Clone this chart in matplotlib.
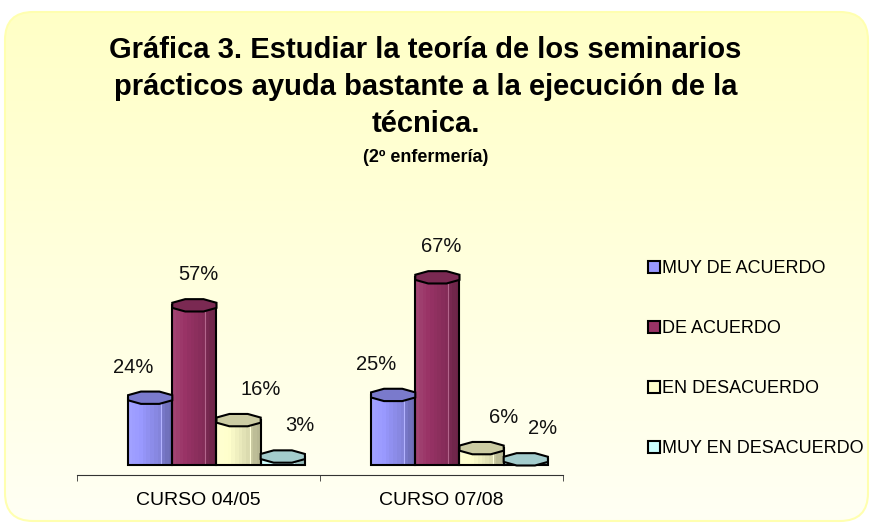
import numpy as np
import matplotlib.pyplot as plt
from matplotlib.patches import FancyBboxPatch, Polygon, Patch
from matplotlib import colors as mcolors

cursos = ['CURSO 04/05', 'CURSO 07/08']
respuestas = ['MUY DE ACUERDO', 'DE ACUERDO', 'EN DESACUERDO', 'MUY EN DESACUERDO']
muy_de_acuerdo = [24, 25]
de_acuerdo = [57, 67]
en_desacuerdo = [16, 6]
muy_en_desacuerdo = [3, 2]
colores = ['#9999FF', '#993366', '#FFFFCC', '#CCFFFF']

series = [muy_de_acuerdo, de_acuerdo, en_desacuerdo, muy_en_desacuerdo]

plt.rcParams['font.family'] = ['Liberation Sans', 'DejaVu Sans']


def tono(c, f):
    r = np.array(mcolors.to_rgb(c))
    if f >= 1:
        return tuple(r + (1 - r) * (f - 1))
    return tuple(r * f)


fig = plt.figure(figsize=(8.74, 5.23), dpi=100)

# fondo con degradado
bg = fig.add_axes([0, 0, 1, 1], zorder=-10)
bg.set_xlim(0, 874)
bg.set_ylim(523, 0)
bg.axis('off')
caja = FancyBboxPatch((5, 12), 863, 509, boxstyle='round,pad=0,rounding_size=28',
                      facecolor='none', edgecolor='#FFFFB0', lw=1.5)
bg.add_patch(caja)
cm = mcolors.LinearSegmentedColormap.from_list('fondo', ['#FFFFC6', '#FFFFF4'])
im = bg.imshow(np.linspace(0, 1, 256).reshape(-1, 1), cmap=cm,
               extent=[5, 868, 521, 12], aspect='auto')
im.set_clip_path(caja)

# ejes
ax = fig.add_axes([77 / 874, 1 - 475 / 523, 486 / 874, 275 / 523])
ax.set_facecolor('none')
ax.set_xlim(-0.5, 1.5)
ax.set_ylim(-3.6, -3.6 + 275 / 2.8)

x = np.arange(len(cursos))
w = 0.182
desp_lbl = [-12, 3, 16, 12]

for i, (vals, col) in enumerate(zip(series, colores)):
    left = x - 0.29 + i * w
    n = 12
    fs = np.concatenate([np.linspace(1.08, 0.86, 9), [0.78, 0.74, 0.72]])
    for k in range(n):
        ax.bar(left + k * w / n, vals, width=w / n, align='edge',
               color=tono(col, fs[k]), lw=0, zorder=2)
    # linea clara
    ax.vlines(left + 0.75 * w, 0, vals, color=tono(col, 1.25), lw=0.8, zorder=2.5)
    ax.bar(left, vals, width=w, align='edge', fill=False, edgecolor='black',
           lw=1.5, zorder=3)
    for xc, v in zip(left + w / 2, vals):
        ang = np.deg2rad(22.5 + 45 * np.arange(8))
        px = xc + (w / 2) * np.cos(ang) / np.cos(np.deg2rad(22.5))
        py = v + 2.2 * np.sin(ang) / np.cos(np.deg2rad(22.5))
        ax.add_patch(Polygon(np.column_stack([px, py]), closed=True,
                             facecolor=tono(col, 0.8), edgecolor='black',
                             lw=1.5, zorder=4))
        ax.annotate(f'{v}%', (xc, v), xytext=(desp_lbl[i], 22),
                    textcoords='offset points', ha='center', va='center',
                    fontsize=14.5, color='#111111')

for s in ['top', 'right', 'left']:
    ax.spines[s].set_visible(False)
ax.spines['bottom'].set_color('#333333')
ax.set_yticks([])
ax.set_xticks(x)
ax.set_xticklabels(cursos, fontsize=14)
ax.tick_params(axis='x', which='major', length=0, pad=12)
ax.set_xticks([-0.5, 0.5, 1.5], minor=True)
ax.tick_params(axis='x', which='minor', length=4, color='#333333')

# titulo
fig.text(0.487, 1 - 87 / 523,
         'Gráfica 3. Estudiar la teoría de los seminarios\n'
         'prácticos ayuda bastante a la ejecución de la\ntécnica.',
         ha='center', va='center', fontsize=21, fontweight='bold',
         linespacing=1.42)
fig.text(0.487, 1 - 158 / 523, '(2º enfermería)', ha='center', va='center',
         fontsize=13, fontweight='bold')

handles = [Patch(facecolor=c, edgecolor='black', lw=1.5) for c in colores]
fig.legend(handles, respuestas, loc='upper left',
           bbox_to_anchor=(648 / 874, 1 - 260 / 523), frameon=False,
           fontsize=13, handlelength=0.65, handleheight=0.65,
           handletextpad=0.15, labelspacing=2.38, borderaxespad=0,
           borderpad=0)

fig.savefig('out.png', dpi=100)
